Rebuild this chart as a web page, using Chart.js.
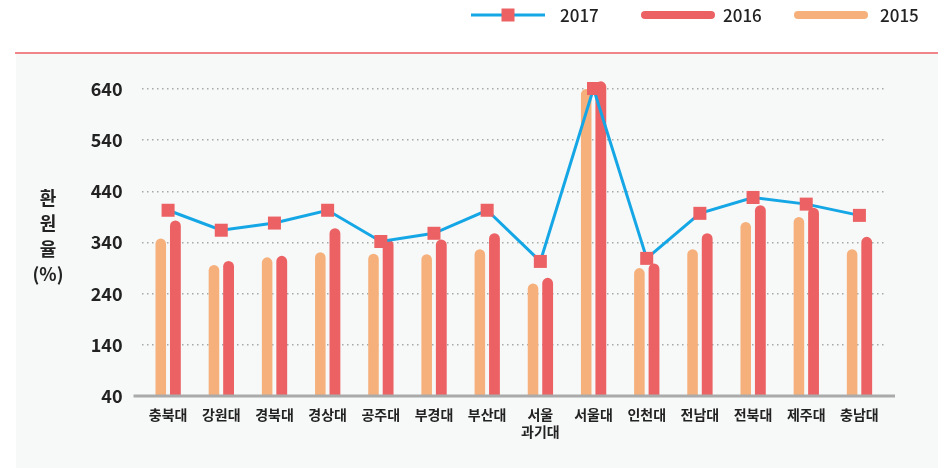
<!DOCTYPE html>
<html>
<head>
<meta charset="utf-8">
<script src="https://cdn.jsdelivr.net/npm/chart.js@4/dist/chart.umd.min.js"></script>
<style>
  html, body { margin: 0; padding: 0; background: #fff; }
  #wrap { position: relative; width: 948px; height: 468px; }
  #panel { position: absolute; left: 16px; top: 54px; width: 922px; height: 414px; background: #f7f8f8; }
  #topline { position: absolute; left: 15px; top: 52px; width: 923px; height: 2px; background: #f0868a; }
  #mychart { position: absolute; left: 0; top: 0; }
</style>
</head>
<body>
<div id="wrap">
  <div id="panel"></div>
  <div id="topline"></div>
  <canvas id="mychart" width="948" height="468"></canvas>
</div>
<script>
// universities along the x-axis
var schools = ['충북대','강원대','경북대','경상대','공주대','부경대','부산대',['서울','과기대'],'서울대','인천대','전남대','전북대','제주대','충남대'];
// 환원율 per year
var values2017 = [403,364,378,403,342,358,403,303,641,309,397,428,415,393];
var values2016 = [383,304,314,368,346,346,358,271,655,299,358,413,408,351];
var values2015 = [348,296,311,321,318,317,327,260,640,290,327,380,390,327];
var yTicks = [40,140,240,340,440,540,640];
var axisTitle = ['환','원','율','(%)'];

var red = '#ec6264', orange = '#f5b07b', blue = '#15a7e5';
var font = "'Noto Sans CJK KR', 'Noto Sans', sans-serif";

// baseline that runs a bit past the plot area, drawn over the bar feet
var baseLine = {
  id: 'baseLine',
  afterDatasetsDraw: function (chart) {
    var c = chart.ctx, a = chart.chartArea;
    var y = chart.scales.y.getPixelForValue(40);
    c.save();
    c.strokeStyle = '#aaaaaa'; c.lineWidth = 3;
    c.beginPath(); c.moveTo(a.left - 8, y); c.lineTo(a.right + 9, y); c.stroke();
    c.restore();
  }
};

// legend + y title drawn on the canvas
var extras = {
  id: 'extras',
  afterDraw: function (chart) {
    var c = chart.ctx;
    c.save();
    c.fillStyle = '#222';
    c.font = 'bold 18px ' + font;
    c.textAlign = 'center';
    c.textBaseline = 'middle';
    axisTitle.forEach(function (t, i) { c.fillText(t, 48, 198 + i * 25.5); });

    var y = 15;
    // 2017
    c.strokeStyle = blue; c.lineWidth = 3;
    c.beginPath(); c.moveTo(471, y); c.lineTo(545, y); c.stroke();
    c.fillStyle = red; c.fillRect(501.5, y - 6.5, 13, 13);
    // 2016 / 2015 pills
    function pill(x0, x1, col) {
      c.strokeStyle = col; c.lineWidth = 8; c.lineCap = 'round';
      c.beginPath(); c.moveTo(x0 + 4, y); c.lineTo(x1 - 4, y); c.stroke();
    }
    pill(641, 715, red);
    pill(794, 868, orange);
    c.fillStyle = '#222';
    c.font = '500 17px ' + font;
    c.textAlign = 'left';
    var ds = chart.data.datasets;
    c.fillText(ds[0].label, 560, y + 1);
    c.fillText(ds[2].label, 723, y + 1);
    c.fillText(ds[1].label, 880, y + 1);
    c.restore();
  }
};

var ctx = document.getElementById('mychart');
var myChart = new Chart(ctx, {
  type: 'bar',
  data: {
    labels: schools,
    datasets: [{
      type: 'line',
      label: '2017',
      data: values2017,
      borderColor: blue,
      borderWidth: 3,
      pointStyle: 'rect',
      pointRadius: 9.2,
      pointHoverRadius: 9.2,
      pointBackgroundColor: red,
      pointBorderWidth: 0,
      tension: 0,
      clip: false,
      order: 0
    }, {
      label: '2015',
      data: values2015,
      base: 40,
      backgroundColor: orange,
      borderRadius: 6,
      borderSkipped: 'bottom',
      categoryPercentage: 0.55,
      barPercentage: 0.72,
      clip: false,
      order: 1
    }, {
      label: '2016',
      data: values2016,
      base: 40,
      backgroundColor: red,
      borderRadius: 6,
      borderSkipped: 'bottom',
      categoryPercentage: 0.55,
      barPercentage: 0.74,
      clip: false,
      order: 1
    }]
  },
  options: {
    responsive: false,
    animation: false,
    layout: { padding: { top: 89, right: 62, left: 0, bottom: 0 } },
    plugins: { legend: { display: false }, tooltip: { enabled: false } },
    scales: {
      x: {
        grid: { display: false, drawTicks: false },
        border: { display: false },
        ticks: { color: '#222', font: { family: font, size: 14, weight: 'bold' }, padding: 10, maxRotation: 0, autoSkip: false },
        afterFit: function (s) { s.height = 72; }
      },
      y: {
        min: 40,
        max: 640,
        afterBuildTicks: function (s) { s.ticks = yTicks.map(function (v) { return { value: v }; }); },
        grid: {
          color: function (c) { return c.tick.value === 40 ? 'rgba(0,0,0,0)' : '#a8a8a8'; },
          lineWidth: 1.5,
          drawTicks: false
        },
        border: { display: false, dash: [1.5, 3.5] },
        ticks: { color: '#222', font: { family: font, size: 18, weight: 'bold' }, padding: 19 },
        afterFit: function (s) { s.width = 141.5; }
      }
    }
  },
  plugins: [baseLine, extras]
});
</script>
</body>
</html>
